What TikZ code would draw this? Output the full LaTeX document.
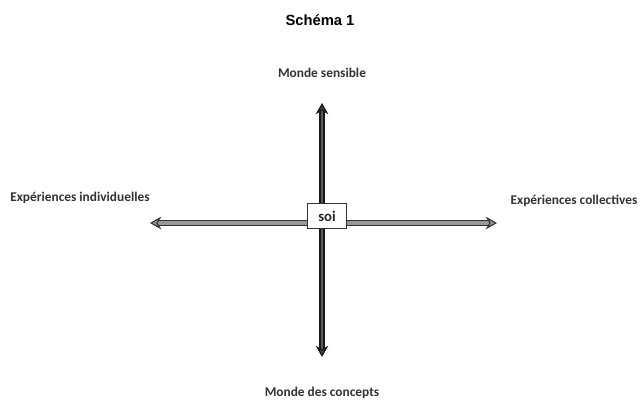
\documentclass[tikz,border=0pt]{standalone}
\usepackage{fontspec}
\setmainfont{Carlito}
\newfontfamily\titlefont{Liberation Sans}
\usetikzlibrary{arrows.meta}

\tikzset{
	pole/.style={font=\fontsize{9.5}{11}\selectfont\bfseries, text=black!80},
	axeh/.style={draw=black!80, double=black!40, double distance=2.2pt, line width=0.8pt,
		{Stealth[length=8pt,width=9pt,fill=black!40]}-{Stealth[length=8pt,width=9pt,fill=black!40]}},
	axev/.style={draw=black!90, double=black!65, double distance=2pt, line width=0.9pt,
		{Stealth[length=8pt,width=9pt,fill=black!75]}-{Stealth[length=8pt,width=9pt,fill=black!75]}},
	soibox/.style={draw=black!80, fill=white, line width=0.6pt, minimum width=28pt, minimum height=18pt,
		font=\fontsize{10.5}{12}\selectfont\bfseries, text=black!85}
}

\begin{document}
\begin{tikzpicture}[x=0.025cm,y=-0.025cm]
	\useasboundingbox (0,0) rectangle (640,405);

	%title
	\node (titre) at (320,20) {\titlefont\fontsize{10.5}{12}\selectfont\bfseries Schéma 1};

	%labels
	\node[pole] (sensible) 	at (322,73) 	{Monde sensible};
	\node[pole] (concepts) 	at (322,393) 	{Monde des concepts};
	\node[pole] (indiv) 	at (80,198) 	{Expériences individuelles};
	\node[pole] (collect) 	at (574,201) 	{Expériences collectives};

	%arrow ends
	\coordinate (haut) 	at (322,103);
	\coordinate (bas) 	at (322,357);
	\coordinate (gauche) at (150,223);
	\coordinate (droite) at (497,223);

	%arrows
	\draw[axeh] (gauche) -- (droite);
	\draw[axev] (haut) -- (bas);

	%self
	\node[soibox] (soi) at (327,216) {soi};
\end{tikzpicture}
\end{document}
